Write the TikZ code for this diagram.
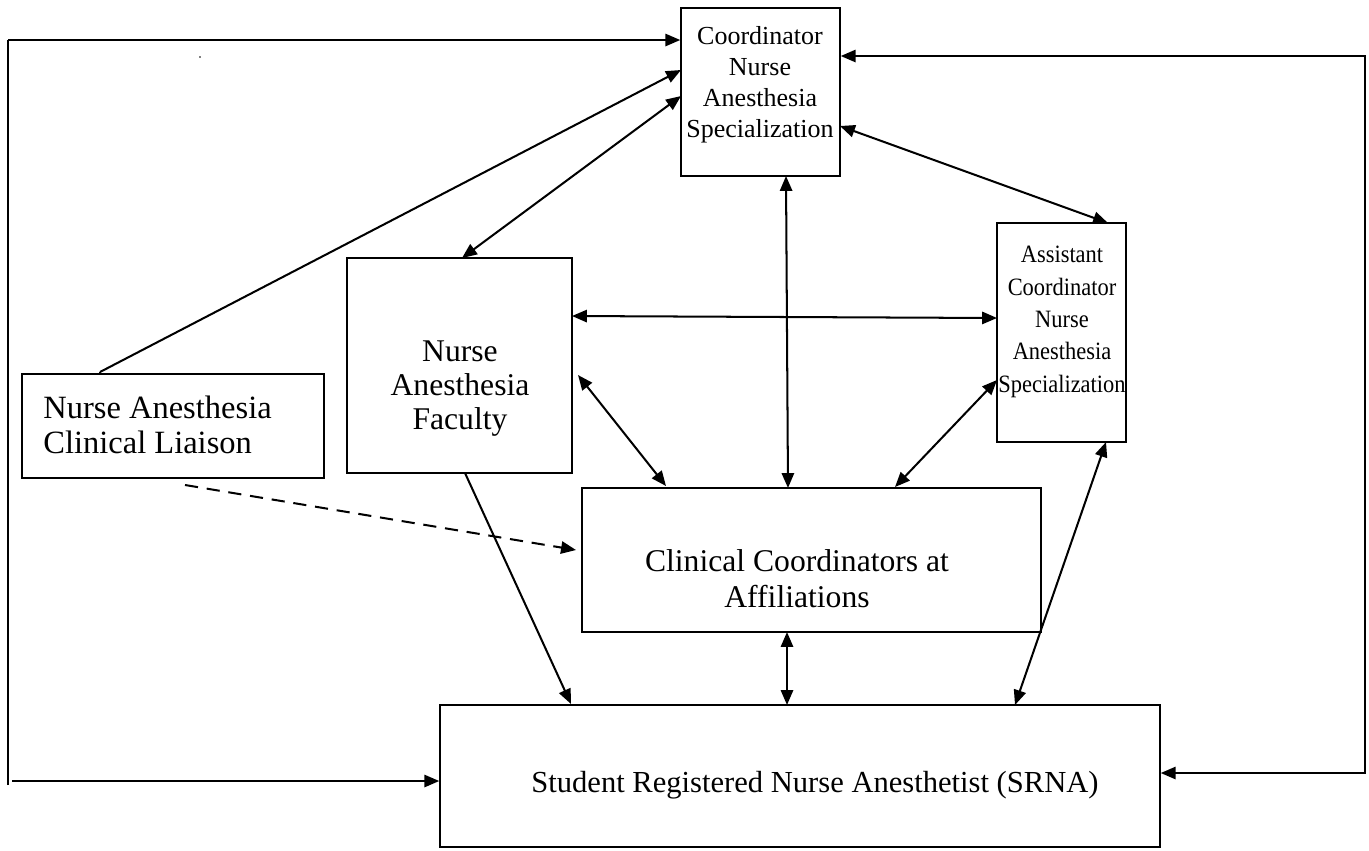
\documentclass[tikz,border=0pt]{standalone}
\usepackage{fontspec}
\usepackage{graphicx}
\setmainfont{Liberation Serif}
\usetikzlibrary{arrows.meta}
\newcommand{\txtblock}[4]{\scalebox{#1}[1]{\fontsize{#2}{#3}\selectfont\begin{tabular}{@{}c@{}}#4\end{tabular}}}
\newcommand{\txtblockl}[4]{\scalebox{#1}[1]{\fontsize{#2}{#3}\selectfont\begin{tabular}{@{}l@{}}#4\end{tabular}}}
\begin{document}
\begin{tikzpicture}[x=0.02cm,y=-0.02cm,
  box/.style={draw,line width=0.85pt,inner sep=0pt},
  lbl/.style={inner sep=0pt},
  lnk/.style={line width=1.15pt},
  arr/.style={lnk,-{Triangle[length=8.5pt,width=7pt]}},
  darr/.style={lnk,{Triangle[length=8.5pt,width=7pt]}-{Triangle[length=8.5pt,width=7pt]}}]
\useasboundingbox (0,0) rectangle (1369,850);
% boxes
\node[box,minimum width=159*0.02cm,minimum height=168*0.02cm] (coord) at (760.5,92) {};
\node[box,minimum width=129*0.02cm,minimum height=219*0.02cm] (asst) at (1061.5,332.5) {};
\node[box,minimum width=225*0.02cm,minimum height=215*0.02cm] (fac) at (459.5,365.5) {};
\node[box,minimum width=302*0.02cm,minimum height=104*0.02cm] (liai) at (173,426) {};
\node[box,minimum width=459*0.02cm,minimum height=144*0.02cm] (clin) at (811.5,560) {};
\node[box,minimum width=720*0.02cm,minimum height=142*0.02cm] (srna) at (800,776) {};
% texts
\node[lbl] (tcoord) at (760,85) {\txtblock{1}{14.8}{17.6}{Coordinator\\Nurse\\Anesthesia\\Specialization}};
\node[lbl] (tasst) at (1062,321) {\txtblock{0.9}{14.2}{18.4}{Assistant\\Coordinator\\Nurse\\Anesthesia\\Specialization}};
\node[lbl] (tfac) at (460,389) {\txtblock{1}{18}{19.4}{Nurse\\Anesthesia\\Faculty}};
\node[lbl,anchor=west] (tliai) at (43,429) {\txtblockl{1}{18.5}{20.2}{Nurse Anesthesia\\Clinical Liaison}};
\node[lbl] (tclin) at (797,582) {\txtblock{1}{18}{20.5}{Clinical Coordinators at\\Affiliations}};
\node[lbl] (tsrna) at (815,785) {\txtblock{1}{17.4}{21.6}{Student Registered Nurse Anesthetist (SRNA)}};
% stray dot
\fill (200,57) circle (0.5pt);
% left frame
\coordinate (lt) at (8,40);
\coordinate (lb) at (8,785);
\coordinate (lb2) at (12,781);
\draw[lnk] (lb) -- (lt);
\draw[arr] (lt) -- (lt -| coord.west);
\draw[arr] (lb2) -- (lb2 -| srna.west);
% right frame
\coordinate (rt) at (1365,56);
\coordinate (rb) at (1365,773);
\draw[darr] (rt -| coord.east) -- (rt) -- (rb) -- (rb -| srna.east);
% liaison
\coordinate (l1) at (100,372);
\coordinate (c1) at (681,70);
\draw[lnk] (l1) -- (liai.north -| l1);
\draw[arr] (l1) -- (c1);
\coordinate (l2) at (185,485);
\coordinate (k2) at (576,550);
\draw[arr,dashed,dash pattern=on 7.5pt off 5pt] (l2) -- (k2);
% faculty - coordinator
\draw[darr] (462,258) -- (681,96);
% coordinator - clinical
\draw[darr] (786,176) -- (788,488);
% coordinator - assistant
\draw[darr] (840,126) -- (1108,223);
% faculty - assistant
\draw[darr] (572,316) -- (997,318);
% faculty - clinical
\draw[darr] (578,375) -- (666,486);
% assistant - clinical
\draw[darr] (997,380) -- (895,487);
% faculty - srna
\draw[arr] (465,473) -- (571,704);
% clinical - srna
\draw[darr] (787,632) -- (787,705);
% assistant - srna
\draw[darr] (1106,442) -- (1015,705);
\end{tikzpicture}
\end{document}
